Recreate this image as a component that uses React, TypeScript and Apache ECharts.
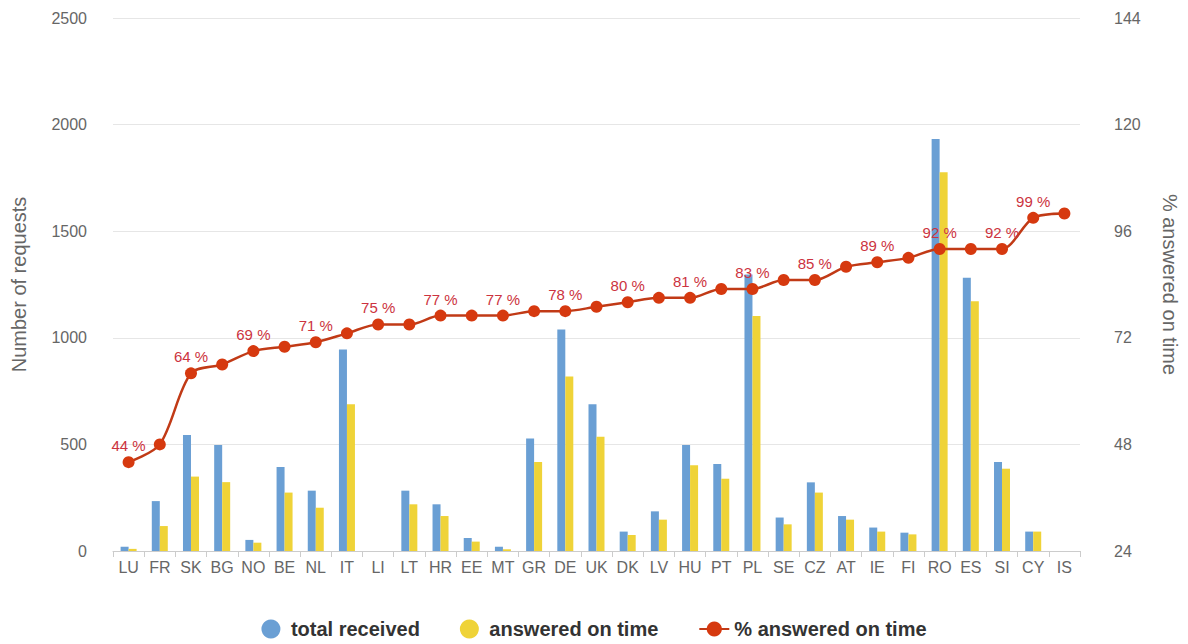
import React, { useEffect, useRef } from "react";
import * as echarts from "echarts";

const countries = ["LU","FR","SK","BG","NO","BE","NL","IT","LI","LT","HR","EE","MT","GR","DE","UK","DK","LV","HU","PT","PL","SE","CZ","AT","IE","FI","RO","ES","SI","CY","IS"];
const totalReceived = [20,234,544,497,52,394,283,945,0,283,219,61,20,528,1039,688,91,186,497,408,1297,157,322,164,110,86,1933,1282,417,91,0];
const answeredOnTime = [10,117,349,323,39,274,203,688,0,219,164,44,8,417,819,536,75,147,402,339,1102,125,274,147,91,78,1777,1172,386,91,0];
const pctOnTime = [44,48,64,66,69,70,71,73,75,75,77,77,77,78,78,79,80,81,81,83,83,85,85,88,89,90,92,92,92,99,100];
const labelledCountries = ["LU","SK","NO","NL","LI","HR","MT","DE","DK","HU","PL","CZ","IE","RO","SI","CY"];
const leftTicks = { min: 0, max: 2500, interval: 500 };
const rightTicks = { min: 24, max: 144, interval: 24 };

const FONT = "'Liberation Sans', Arial, sans-serif";

export default function App() {
  const ref = useRef<HTMLDivElement>(null);
  useEffect(() => {
    document.body.style.margin = "0";
    const chart = echarts.init(ref.current!, null, { renderer: "svg" });
    const lineData = pctOnTime.map((v, i) => ({
      value: v,
      label: { show: labelledCountries.includes(countries[i]) },
    }));
    chart.setOption({
      animation: false,
      textStyle: { fontFamily: FONT },
      grid: { left: 113, right: 104, top: 18, bottom: 93 },
      legend: {
        bottom: 0,
        left: "center",
        itemGap: 40,
        itemWidth: 30,
        itemHeight: 19,
        textStyle: { fontSize: 20, fontWeight: "bold", color: "#333", fontFamily: FONT },
        data: [
          { name: "total received", icon: "circle" },
          { name: "answered on time", icon: "circle" },
          { name: "% answered on time" },
        ],
      },
      xAxis: {
        type: "category",
        data: countries,
        axisLine: { lineStyle: { color: "#ccc" } },
        axisTick: { show: true, length: 6, lineStyle: { color: "#ccc" } },
        axisLabel: { color: "#666", fontSize: 16, margin: 8, interval: 0 },
      },
      yAxis: [
        {
          type: "value",
          min: leftTicks.min,
          max: leftTicks.max,
          interval: leftTicks.interval,
          name: "Number of requests",
          nameLocation: "middle",
          nameGap: 84,
          nameTextStyle: { color: "#666", fontSize: 20 },
          axisLabel: { color: "#666", fontSize: 16, margin: 26, formatter: (v: number) => String(v) },
          splitLine: { lineStyle: { color: "#e6e6e6" } },
          axisLine: { show: false },
          axisTick: { show: false },
        },
        {
          type: "value",
          min: rightTicks.min,
          max: rightTicks.max,
          interval: rightTicks.interval,
          name: "% answered on time",
          nameLocation: "middle",
          nameGap: 80,
          nameRotate: -90,
          nameTextStyle: { color: "#666", fontSize: 20 },
          axisLabel: { color: "#666", fontSize: 16, margin: 34 },
          splitLine: { show: false },
          axisLine: { show: false },
          axisTick: { show: false },
        },
      ],
      series: [
        {
          name: "total received",
          type: "bar",
          data: totalReceived,
          barWidth: 8,
          barGap: "0%",
          itemStyle: { color: "#6a9fd4" },
        },
        {
          name: "answered on time",
          type: "bar",
          data: answeredOnTime,
          barWidth: 8,
          itemStyle: { color: "#efd338" },
        },
        {
          name: "% answered on time",
          type: "line",
          yAxisIndex: 1,
          data: lineData,
          smooth: 0.3,
          symbol: "circle",
          symbolSize: 12,
          lineStyle: { color: "#c13a16", width: 2.5 },
          itemStyle: { color: "#d6390f" },
          label: {
            position: "top",
            distance: 3,
            color: "#cc3340",
            fontSize: 15,
            formatter: (p: any) => p.value + " %",
          },
          z: 5,
        },
      ],
    });
    return () => chart.dispose();
  }, []);
  return <div ref={ref} style={{ width: 1188, height: 644 }} />;
}
